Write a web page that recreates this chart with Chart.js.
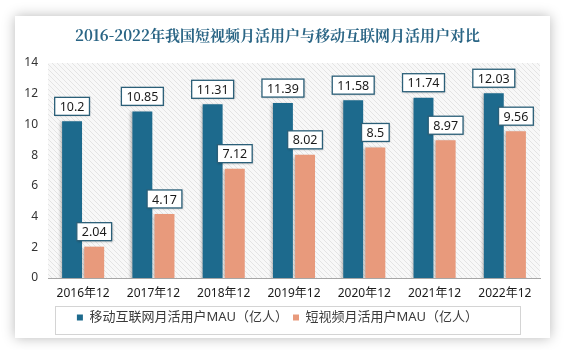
<!DOCTYPE html>
<html>
<head>
<meta charset="utf-8">
<script src="https://cdn.jsdelivr.net/npm/chart.js@4"></script>
<style>
  html, body { margin: 0; padding: 0; background: #ffffff; }
  #card {
    position: absolute; left: 15px; top: 16px; width: 535px; height: 322px;
    background: #ffffff; box-shadow: 0 0 12px rgba(0,0,0,0.28);
  }
  canvas { display: block; }
</style>
</head>
<body>
<div id="card"><canvas id="grafica" width="535" height="322"></canvas></div>
<script>
// datos
const categorias = ['2016年12', '2017年12', '2018年12', '2019年12', '2020年12', '2021年12', '2022年12'];
const movil = [10.2, 10.85, 11.31, 11.39, 11.58, 11.74, 12.03];
const videoCorto = [2.04, 4.17, 7.12, 8.02, 8.5, 8.97, 9.56];
const nombreMovil = '移动互联网月活用户MAU（亿人）';
const nombreVideo = '短视频月活用户MAU（亿人）';
const titulo = '2016-2022年我国短视频月活用户与移动互联网月活用户对比';

const fuente = '"Noto Sans", "Noto Sans CJK SC", sans-serif';

// fondo rayado del area del grafico
function patronRayado(ctx) {
    const c = document.createElement('canvas');
    c.width = 5; c.height = 5;
    const p = c.getContext('2d');
    p.fillStyle = '#f8f8f8';
    p.fillRect(0, 0, 5, 5);
    p.strokeStyle = '#dedede';
    p.lineWidth = 0.8;
    p.beginPath();
    p.moveTo(-1, -1); p.lineTo(6, 6);
    p.moveTo(-1, 4); p.lineTo(1, 6);
    p.moveTo(4, -1); p.lineTo(6, 1);
    p.stroke();
    return ctx.createPattern(c, 'repeat');
}

const fondo = {
    id: 'fondo',
    beforeDatasetsDraw(chart) {
        const a = chart.chartArea;
        const ctx = chart.ctx;
        ctx.save();
        ctx.fillStyle = patronRayado(ctx);
        ctx.fillRect(a.left, a.top, a.right - a.left, a.bottom - a.top);
        ctx.restore();
        // sombra de las barras
        ctx.save();
        ctx.shadowColor = 'rgba(0,0,0,0.25)';
        ctx.shadowOffsetX = -2;
        ctx.shadowOffsetY = 1;
        ctx.shadowBlur = 3;
    },
    afterDatasetsDraw(chart) {
        chart.ctx.restore();
    }
};

// etiquetas con recuadro
const etiquetas = {
    id: 'etiquetas',
    afterDatasetsDraw(chart) {
        const ctx = chart.ctx;
        ctx.save();
        ctx.font = '12.5px ' + fuente;
        ctx.textAlign = 'center';
        ctx.textBaseline = 'middle';
        chart.data.datasets.forEach((ds, i) => {
            const meta = chart.getDatasetMeta(i);
            meta.data.forEach((bar, j) => {
                const txt = String(ds.data[j]);
                const w = ctx.measureText(txt).width + 10;
                const h = 18;
                const x = bar.x;
                const y = bar.y - 6 - h;
                ctx.shadowColor = 'rgba(0,0,0,0.2)';
                ctx.shadowBlur = 2;
                ctx.shadowOffsetX = 1;
                ctx.shadowOffsetY = 1;
                ctx.fillStyle = '#ffffff';
                ctx.fillRect(x - w / 2, y, w, h);
                ctx.shadowColor = 'transparent';
                ctx.strokeStyle = '#2b5f78';
                ctx.lineWidth = 1.3;
                ctx.strokeRect(x - w / 2, y, w, h);
                ctx.fillStyle = '#1a1a1a';
                ctx.fillText(txt, x, y + h / 2 + 1);
            });
        });
        ctx.restore();
    }
};

// recuadro de la leyenda
const marcoLeyenda = {
    id: 'marcoLeyenda',
    afterDraw(chart) {
        const l = chart.legend;
        const ctx = chart.ctx;
        ctx.save();
        ctx.strokeStyle = '#d4d4d4';
        ctx.lineWidth = 1;
        ctx.strokeRect(40.5, l.top + 0.5, 465, l.bottom - l.top);
        ctx.restore();
    }
};

new Chart(document.getElementById('grafica'), {
    type: 'bar',
    data: {
        labels: categorias,
        datasets: [{
            label: nombreMovil,
            data: movil,
            backgroundColor: '#1d6a8d',
            barPercentage: 0.9,
            categoryPercentage: 0.63
        }, {
            label: nombreVideo,
            data: videoCorto,
            backgroundColor: '#e89a7c',
            barPercentage: 0.9,
            categoryPercentage: 0.63
        }]
    },
    options: {
        responsive: false,
        animation: false,
        layout: { padding: { left: 0, right: 10, top: 8, bottom: 4 } },
        plugins: {
            title: {
                display: true,
                text: titulo,
                color: '#2a6585',
                font: { family: '"Noto Serif CJK SC", "Noto Sans CJK SC", serif', size: 15, weight: 'bold' },
                padding: { top: 2, bottom: 19 }
            },
            legend: {
                position: 'bottom',
                labels: {
                    color: '#3a3a3a',
                    font: { family: fuente, size: 13 },
                    boxWidth: 6,
                    boxHeight: 6,
                    padding: 5
                }
            },
            tooltip: { enabled: false }
        },
        scales: {
            x: {
                afterFit(scale) { scale.height = 28; },
                grid: { display: false, drawTicks: false },
                border: { color: '#a6a6a6' },
                ticks: { color: '#1a1a1a', font: { family: fuente, size: 12 }, padding: 8, maxRotation: 0 }
            },
            y: {
                min: 0,
                max: 14,
                afterFit(scale) { scale.width = 33; },
                grid: { display: false, drawTicks: false },
                border: { display: false },
                ticks: { stepSize: 2, color: '#333333', font: { family: fuente, size: 12 }, padding: 10 }
            }
        }
    },
    plugins: [fondo, etiquetas, marcoLeyenda]
});
</script>
</body>
</html>
